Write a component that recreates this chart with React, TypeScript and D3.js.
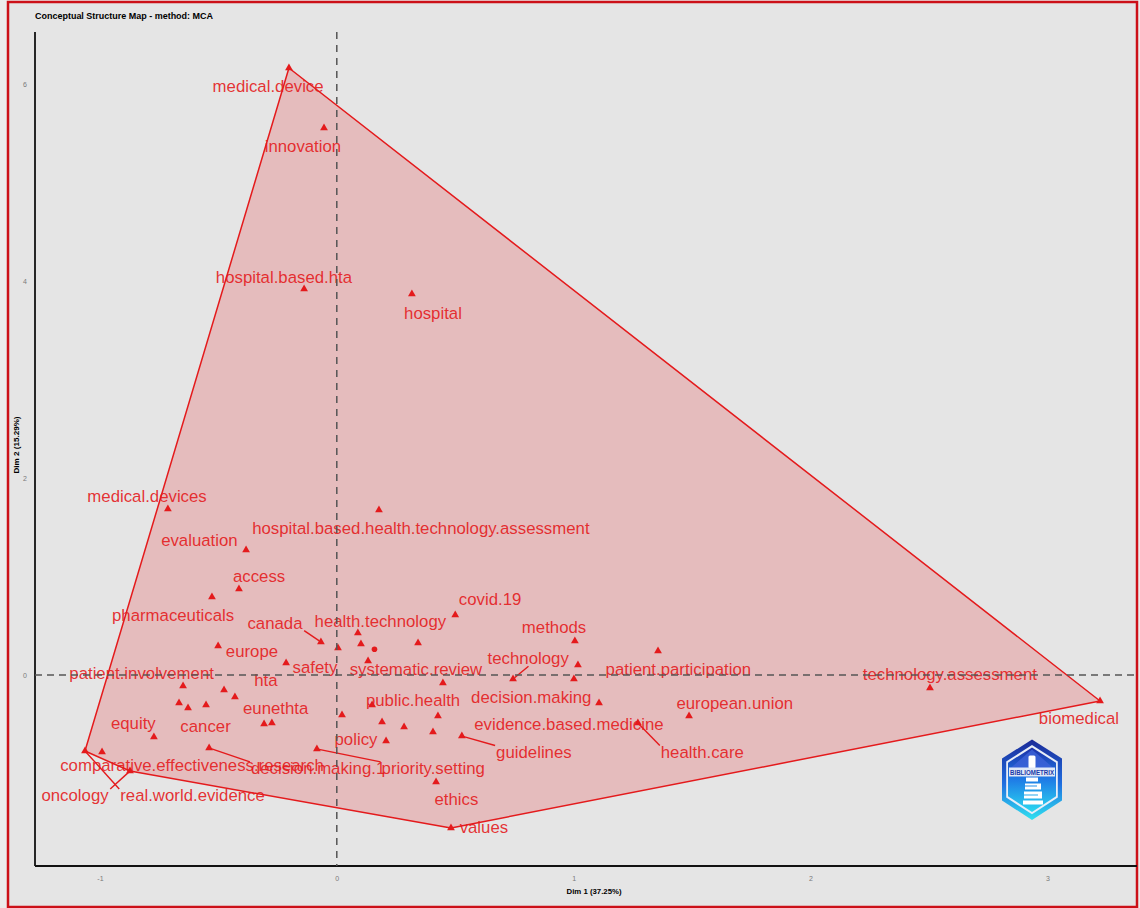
import React, { useRef, useEffect } from 'react';
import * as d3 from 'd3';

// MCA coordinates of the terms (Dim 1, Dim 2); "" = label hidden by overlaps
const terms = [
  'medical.device', 'innovation', 'hospital.based.hta', 'hospital', 'medical.devices',
  'hospital.based.health.technology.assessment', 'evaluation', 'access', 'pharmaceuticals', 'covid.19',
  'health.technology', '', '', 'canada', '',
  'systematic.review', 'europe', 'safety', 'methods', 'patient.participation',
  '', 'decision.making', 'technology', '', 'technology.assessment',
  'biomedical', 'patient.involvement', '', 'hta', '',
  '', 'cancer', 'eunethta', '', 'equity',
  'policy', '', '', '', '',
  '', 'public.health', 'guidelines', 'evidence.based.medicine', 'health.care',
  'european.union', 'ethics', 'values', 'real.world.evidence', 'comparative.effectiveness.research',
  'oncology', 'decision.making.1', 'priority.setting',
];
const dim1 = [
  -0.202, -0.054, -0.138, 0.317, -0.713,
  0.178, -0.383, -0.413, -0.527, 0.5,
  0.089, 0.102, 0.005, -0.067, 0.343,
  0.132, -0.501, -0.214, 1.005, 1.356,
  1.018, 1.001, 0.744, 0.448, 2.504,
  3.222, -0.649, -0.476, -0.43, -0.666,
  -0.628, -0.552, -0.307, -0.274, -0.772,
  0.022, 0.191, 0.284, 0.427, 0.406,
  0.208, 0.149, 0.528, 1.107, 1.271,
  1.487, 0.419, 0.482, -1.063, -0.991,
  -0.873, -0.539, -0.084,
];
const dim2 = [
  6.169, 5.559, 3.923, 3.872, 1.687,
  1.677, 1.27, 0.874, 0.793, 0.61,
  0.427, 0.315, 0.274, 0.335, 0.325,
  0.142, 0.295, 0.122, 0.346, 0.244,
  0.102, -0.041, -0.041, -0.081, -0.132,
  -0.264, -0.112, -0.152, -0.224, -0.285,
  -0.335, -0.305, -0.498, -0.488, -0.63,
  -0.407, -0.478, -0.528, -0.417, -0.579,
  -0.671, -0.305, -0.62, -0.285, -0.488,
  -0.417, -1.087, -1.555, -0.772, -0.783,
  -0.976, -0.742, -0.752,
];

// where the repelled labels ended up (data units)
const labelTerms = [
  'medical.device', 'innovation', 'hospital.based.hta', 'hospital', 'medical.devices',
  'evaluation', 'hospital.based.health.technology.assessment', 'access', 'pharmaceuticals', 'canada',
  'health.technology', 'covid.19', 'methods', 'europe', 'safety',
  'systematic.review', 'technology', 'patient.participation', 'technology.assessment', 'patient.involvement',
  'hta', 'public.health', 'decision.making', 'european.union', 'biomedical',
  'eunethta', 'equity', 'cancer', 'evidence.based.medicine', 'policy',
  'guidelines', 'health.care', 'comparative.effectiveness.research', 'decision.making.1', 'priority.setting',
  'oncology', 'real.world.evidence', 'ethics', 'values',
];
const labelDim1 = [
  -0.29, -0.143, -0.223, 0.406, -0.801,
  -0.58, 0.355, -0.328, -0.691, -0.261,
  0.184, 0.647, 0.917, -0.358, -0.092,
  0.334, 0.808, 1.442, 2.588, -0.824,
  -0.299, 0.322, 0.821, 1.68, 3.133,
  -0.258, -0.859, -0.554, 0.98, 0.081,
  0.832, 1.543, -0.611, -0.079, 0.407,
  -1.105, -0.609, 0.505, 0.621,
];
const labelDim2 = [
  5.986, 5.376, 4.045, 3.679, 1.822,
  1.372, 1.494, 1.006, 0.61, 0.532,
  0.552, 0.772, 0.485, 0.247, 0.078,
  0.058, 0.17, 0.058, 0.01, 0.017,
  -0.051, -0.254, -0.221, -0.282, -0.44,
  -0.338, -0.491, -0.518, -0.501, -0.653,
  -0.779, -0.779, -0.915, -0.945, -0.945,
  -1.22, -1.22, -1.26, -1.545,
];
const leaderTerms = [
  'canada', 'technology', 'guidelines', 'health.care',
  'decision.making.1', 'priority.setting', 'oncology', 'real.world.evidence',
];

const xTicks = [-1, 0, 1, 2, 3];
const yTicks = [0, 2, 4, 6];
const xDomain = [-1.274, 3.378];
const yDomain = [-1.941, 6.535];

const W = 1140;
const H = 908;
const margin = { top: 32, right: 3, bottom: 42, left: 35 };
const RED = '#E41A1C';
const FONT = '"Liberation Sans", Arial, sans-serif';

const App = () => {
  const svgRef = useRef<SVGSVGElement>(null);

  useEffect(() => {
    const svg = d3.select(svgRef.current);
    svg.selectAll('*').remove();

    const x = d3.scaleLinear().domain(xDomain).range([margin.left, W - margin.right]);
    const y = d3.scaleLinear().domain(yDomain).range([H - margin.bottom, margin.top]);

    // background + frame
    svg.append('rect').attr('width', W).attr('height', H).attr('fill', '#ececec');
    svg.append('rect')
      .attr('x', 8).attr('y', 2).attr('width', W - 11).attr('height', H - 3)
      .attr('fill', '#e5e5e5').attr('stroke', '#cc1018').attr('stroke-width', 2.5);

    svg.append('text')
      .attr('x', margin.left).attr('y', 19)
      .attr('font-family', FONT).attr('font-weight', 'bold').attr('font-size', 9.3)
      .attr('textLength', 178).attr('lengthAdjust', 'spacingAndGlyphs')
      .text('Conceptual Structure Map - method: MCA');

    // axes
    const fmt = (d: any) => String(d);
    const xAxis = d3.axisBottom(x).tickValues(xTicks).tickSize(0).tickPadding(10).tickFormat(fmt);
    const yAxis = d3.axisLeft(y).tickValues(yTicks).tickSize(0).tickPadding(8).tickFormat(fmt);
    const gx = svg.append('g').attr('transform', `translate(0,${H - margin.bottom})`).call(xAxis);
    const gy = svg.append('g').attr('transform', `translate(${margin.left},0)`).call(yAxis);
    [gx, gy].forEach(g => {
      g.select('.domain').remove();
      g.selectAll('text').attr('font-family', FONT).attr('font-size', 7).attr('fill', '#7a7a7a');
    });

    svg.append('line')
      .attr('x1', margin.left).attr('x2', margin.left)
      .attr('y1', margin.top).attr('y2', H - margin.bottom)
      .attr('stroke', '#111').attr('stroke-width', 1.8);
    svg.append('line')
      .attr('x1', margin.left).attr('x2', W - margin.right)
      .attr('y1', H - margin.bottom).attr('y2', H - margin.bottom)
      .attr('stroke', '#111').attr('stroke-width', 1.8);

    svg.append('text')
      .attr('x', 594).attr('y', 894)
      .attr('text-anchor', 'middle')
      .attr('font-family', FONT).attr('font-weight', 'bold').attr('font-size', 8)
      .attr('textLength', 55).attr('lengthAdjust', 'spacingAndGlyphs')
      .text('Dim 1 (37.25%)');
    svg.append('text')
      .attr('transform', 'translate(19,445) rotate(-90)')
      .attr('text-anchor', 'middle')
      .attr('font-family', FONT).attr('font-weight', 'bold').attr('font-size', 8)
      .attr('textLength', 57).attr('lengthAdjust', 'spacingAndGlyphs')
      .text('Dim 2 (15.29%)');

    // convex hull of the cluster
    const pts: [number, number][] = terms.map((_, i) => [x(dim1[i]), y(dim2[i])]);
    const hull = d3.polygonHull(pts) || [];
    svg.append('path')
      .attr('d', 'M' + hull.join('L') + 'Z')
      .attr('fill', RED).attr('fill-opacity', 0.2)
      .attr('stroke', RED).attr('stroke-width', 1.5).attr('stroke-linejoin', 'round');

    // terms
    const tri = d3.symbol().type(d3.symbolTriangle).size(26);
    svg.append('g').selectAll('path')
      .data(terms.map((t, i) => ({ t, i })))
      .join('path')
      .attr('transform', d => `translate(${x(dim1[d.i])},${y(dim2[d.i])})`)
      .attr('d', tri as any)
      .attr('fill', RED);

    // cluster centroid
    svg.append('circle')
      .attr('cx', x(d3.mean(dim1) as number))
      .attr('cy', y(d3.mean(dim2) as number))
      .attr('r', 2.8)
      .attr('fill', RED);

    // labels
    const labels = svg.append('g').selectAll('text')
      .data(labelTerms.map((t, i) => ({ t, i })))
      .join('text')
      .attr('x', d => x(labelDim1[d.i]))
      .attr('y', d => y(labelDim2[d.i]))
      .attr('dy', '0.35em')
      .attr('text-anchor', 'middle')
      .attr('font-family', FONT)
      .attr('font-size', 16.8)
      .attr('fill', RED)
      .attr('fill-opacity', 0.9)
      .text(d => d.t);

    // leader segments to the nearest corner / edge middle of the label box
    const segs: { x1: number; y1: number; x2: number; y2: number }[] = [];
    labels.each(function (d) {
      if (!leaderTerms.includes(d.t)) return;
      const b = (this as SVGTextElement).getBBox();
      const k = terms.indexOf(d.t);
      const px = x(dim1[k]);
      const py = y(dim2[k]);
      const l = b.x - 1, r = b.x + b.width + 1;
      const t = b.y + 3, bt = b.y + b.height - 2;
      const cands = [
        [l, t], [(l + r) / 2, t], [r, t],
        [l, (t + bt) / 2], [r, (t + bt) / 2],
        [l, bt], [(l + r) / 2, bt], [r, bt],
      ];
      const best = d3.least(cands, c => Math.hypot(c[0] - px, c[1] - py)) as number[];
      const len = Math.hypot(best[0] - px, best[1] - py);
      const sx = px + ((best[0] - px) / len) * 2;
      const sy = py + ((best[1] - py) / len) * 2;
      segs.push({ x1: sx, y1: sy, x2: best[0], y2: best[1] });
    });
    svg.append('g').selectAll('line')
      .data(segs)
      .join('line')
      .attr('x1', d => d.x1).attr('y1', d => d.y1)
      .attr('x2', d => d.x2).attr('y2', d => d.y2)
      .attr('stroke', RED).attr('stroke-width', 1.4);

    // reference lines at the origin
    svg.append('line')
      .attr('x1', margin.left).attr('x2', W - margin.right)
      .attr('y1', y(0)).attr('y2', y(0))
      .attr('stroke', '#555').attr('stroke-width', 1.5).attr('stroke-dasharray', '7,5');
    svg.append('line')
      .attr('x1', x(0)).attr('x2', x(0))
      .attr('y1', margin.top).attr('y2', H - margin.bottom)
      .attr('stroke', '#555').attr('stroke-width', 1.5).attr('stroke-dasharray', '7,6');

    // bibliometrix badge
    const defs = svg.append('defs');
    const g1 = defs.append('linearGradient').attr('id', 'bxOuter').attr('x1', 0).attr('y1', 0).attr('x2', 0).attr('y2', 1);
    g1.append('stop').attr('offset', 0).attr('stop-color', '#1b2a98');
    g1.append('stop').attr('offset', 0.55).attr('stop-color', '#1f6ee0');
    g1.append('stop').attr('offset', 1).attr('stop-color', '#30e2f0');
    const g2 = defs.append('linearGradient').attr('id', 'bxInner').attr('x1', 0).attr('y1', 0).attr('x2', 0).attr('y2', 1);
    g2.append('stop').attr('offset', 0).attr('stop-color', '#1c30a8');
    g2.append('stop').attr('offset', 0.5).attr('stop-color', '#1f7ce6');
    g2.append('stop').attr('offset', 1).attr('stop-color', '#2ad8f0');

    const hex = (s: number) => {
      const v = [[0, -40], [30, -21], [30, 21], [0, 40.5], [-30, 21], [-30, -21]];
      return 'M' + v.map(p => [p[0] * s, p[1] * s]).join('L') + 'Z';
    };
    const logo = svg.append('g').attr('transform', 'translate(1032,779.5)');
    logo.append('path').attr('d', hex(1)).attr('fill', 'url(#bxOuter)');
    logo.append('path').attr('d', hex(0.86)).attr('fill', '#e8eef8');
    logo.append('path').attr('d', hex(0.8)).attr('fill', 'url(#bxInner)');
    logo.append('path').attr('d', 'M0,-30L-22,-11L22,-11Z').attr('fill', '#3d63d8').attr('opacity', 0.8);
    logo.append('rect').attr('x', -3.5).attr('y', -24).attr('width', 7).attr('height', 13).attr('rx', 1.5).attr('fill', '#fff');
    logo.append('rect').attr('x', -23).attr('y', -12).attr('width', 46).attr('height', 9).attr('fill', '#dfe8f7');
    logo.append('text')
      .attr('x', 0).attr('y', -4.8)
      .attr('text-anchor', 'middle')
      .attr('font-family', FONT).attr('font-weight', 'bold').attr('font-size', 7)
      .attr('textLength', 44).attr('lengthAdjust', 'spacingAndGlyphs')
      .attr('fill', '#1a3aa8')
      .text('BIBLIOMETRIX');
    logo.append('path')
      .attr('d', 'M-6,-2L6,-2L6,2L-6,2Z M-7,4L9,4L9,10L-7,10L-7,7L5,7L5,6L-7,6Z M-8,12L10,12L10,19L-8,19L-8,16L6,16L6,15L-8,15Z M-9,21L11,21L11,25L-9,25Z')
      .attr('fill', '#fff');
  }, []);

  return (
    <svg
      ref={svgRef}
      width={W}
      height={H}
      style={{ position: 'absolute', left: 0, top: 0, display: 'block' }}
    />
  );
};

export default App;
